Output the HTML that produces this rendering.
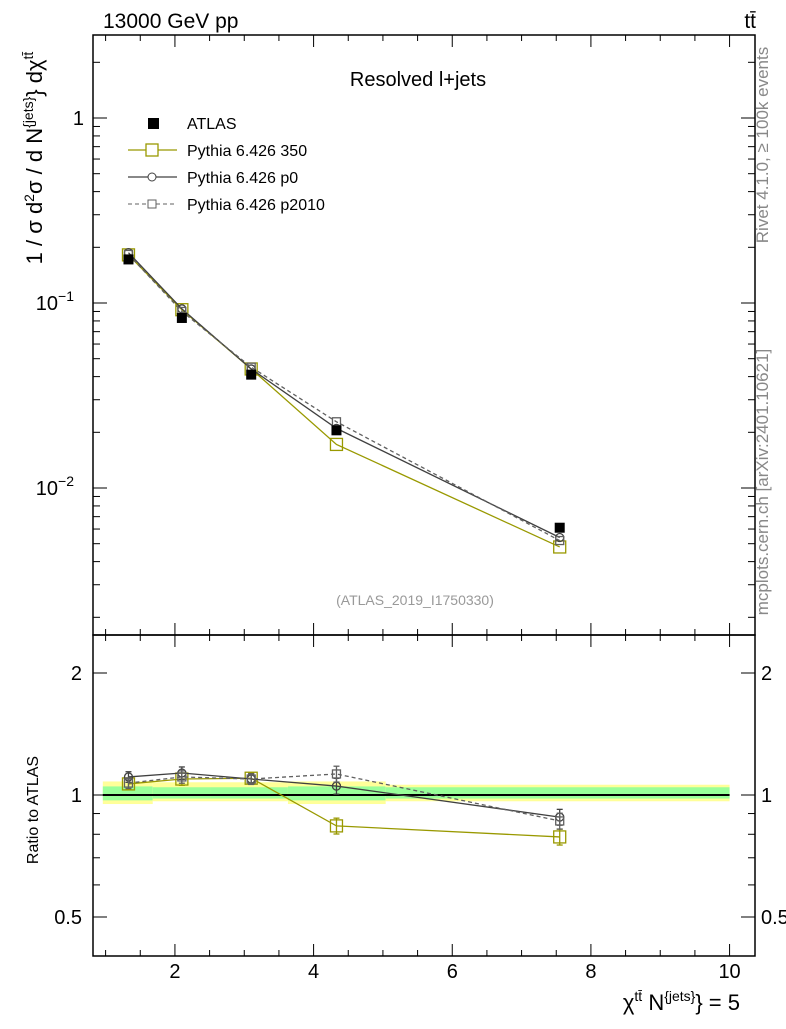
<!DOCTYPE html>
<html><head><meta charset="utf-8"><style>
body{margin:0;background:#fff}
svg text{font-family:"Liberation Sans",sans-serif}
</style></head><body>
<svg id="c" width="786" height="1024" xmlns="http://www.w3.org/2000/svg"></svg>
<script>
const xs=[1.33,2.1,3.1,4.33,7.55];
const atlas=[0.172,0.083,0.041,0.0205,0.0061];
const py350=[0.182,0.092,0.044,0.0172,0.0048];
const pyp0=[0.187,0.093,0.044,0.021,0.0054];
const pyp2010=[0.183,0.090,0.045,0.0228,0.0052];
const r350=[1.065,1.095,1.10,0.839,0.788];
const rp0=[1.108,1.133,1.095,1.052,0.882];
const rp2010=[1.07,1.108,1.095,1.127,0.863];
const rErr=[0.03,0.035,0.03,0.045,0.045];
const binEdges=[0.96,1.68,2.52,3.63,5.04,10];
const yelLo=[0.95,0.965,0.965,0.95,0.965];
const yelHi=[1.08,1.075,1.075,1.08,1.06];
const grnLo=[0.97,0.98,0.98,0.97,0.98];
const grnHi=[1.05,1.045,1.045,1.05,1.045];
const xTicks=[2,4,6,8,10];

const S=document.getElementById('c'),NS='http://www.w3.org/2000/svg';
function el(t,a,p){const e=document.createElementNS(NS,t);for(const k in a)e.setAttribute(k,a[k]);(p||S).appendChild(e);return e;}
const X=v=>105.6+(v-1)*69.33;
const Y=v=>118-185*Math.log10(v);
const R=v=>795-122*Math.log2(v);
const L=93,Rt=755,B=956;
for(let i=0;i<5;i++){
 let b=el('rect',{x:X(binEdges[i]),y:R(yelHi[i]),width:X(binEdges[i+1])-X(binEdges[i]),height:R(yelLo[i])-R(yelHi[i]),fill:'#ffff99'});
 
 let g=el('rect',{x:X(binEdges[i]),y:R(grnHi[i]),width:X(binEdges[i+1])-X(binEdges[i]),height:R(grnLo[i])-R(grnHi[i]),fill:'#99ff99'});
 
}
el('line',{x1:X(binEdges[0]),x2:X(10),y1:R(1),y2:R(1),stroke:'#000','stroke-width':2});
el('rect',{x:L,y:35,width:Rt-L,height:600,fill:'none',stroke:'#000','stroke-width':1.5});
el('rect',{x:L,y:635,width:Rt-L,height:B-635,fill:'none',stroke:'#000','stroke-width':1.5});
for(let v=1;v<=10.3;v+=0.5){const maj=xTicks.includes(v);const h=maj?12:6;
 for(const [top,bot] of [[35,635],[635,B]]){el('line',{x1:X(v),x2:X(v),y1:bot,y2:bot-h,stroke:'#000'});el('line',{x1:X(v),x2:X(v),y1:top,y2:top+h,stroke:'#000'});}}
xTicks.forEach(v=>{const t=el('text',{x:X(v),y:978,'font-size':20,'text-anchor':'middle'});t.textContent=v;
 });
for(let d=-3;d<=0;d++)for(let m=1;m<=9;m++){const v=m*Math.pow(10,d);const y=Y(v);if(y<35||y>635)continue;const h=m==1?14:7;
 el('line',{x1:L,x2:L+h,y1:y,y2:y,stroke:'#000'});el('line',{x1:Rt,x2:Rt-h,y1:y,y2:y,stroke:'#000'});}
[[1,'1',''],[0.1,'10','−1'],[0.01,'10','−2']].forEach(([v,b,e])=>{const t=el('text',{x:e?74:84,y:Y(v)+7,'font-size':20,'text-anchor':'end'});
 t.textContent=b;if(e){const s=el('tspan',{dy:-9,'font-size':14},t);s.textContent=e;}
 });
[0.4,0.5,0.6,0.7,0.8,0.9,1,2].forEach(v=>{const y=R(v);if(y>B)return;const h=(v==1||v==2||v==0.5)?14:7;
 el('line',{x1:L,x2:L+h,y1:y,y2:y,stroke:'#000'});el('line',{x1:Rt,x2:Rt-h,y1:y,y2:y,stroke:'#000'});});
[[2,'2'],[1,'1'],[0.5,'0.5']].forEach(([v,s])=>{for(const [x,a] of [[82,'end'],[761,'start']]){const t=el('text',{x:x,y:R(v)+7,'font-size':20,'text-anchor':a});t.textContent=s;
 }});
function series(xv,yv,f,col,dash,mk,sz,name,err){
 const pts=xv.map((x,i)=>X(x)+','+f(yv[i])).join(' ');
 const pl=el('polyline',{points:pts,fill:'none',stroke:col,'stroke-width':1.3,'stroke-dasharray':dash||'none'});
 
 xv.forEach((x,i)=>{const cx=X(x),cy=f(yv[i]);
  if(err){const y1=f(yv[i]*(1+err[i])),y2=f(yv[i]*(1-err[i]));
   el('line',{x1:cx,x2:cx,y1:y1,y2:y2,stroke:col,'stroke-width':1.3});
   el('line',{x1:cx-3,x2:cx+3,y1:y1,y2:y1,stroke:col,'stroke-width':1.3});
   el('line',{x1:cx-3,x2:cx+3,y1:y2,y2:y2,stroke:col,'stroke-width':1.3});}
  let m;
  if(mk=='c')m=el('circle',{cx:cx,cy:cy,r:sz,fill:'none',stroke:col,'stroke-width':1.3});
  else m=el('rect',{x:cx-sz,y:cy-sz,width:2*sz,height:2*sz,fill:'none',stroke:col,'stroke-width':1.3});
  });
}
series(xs,py350,Y,'#999900','','s',6,'pythia-350');
series(xs,pyp0,Y,'#404040','','c',4,'pythia-p0');
series(xs,pyp2010,Y,'#606060','4,3','s',4,'pythia-p2010');
xs.forEach((x,i)=>{const m=el('rect',{x:X(x)-5,y:Y(atlas[i])-5,width:10,height:10,fill:'#000'});
 });
series(xs,r350,R,'#999900','','s',6,'ratio-350',rErr);
series(xs,rp0,R,'#404040','','c',4,'ratio-p0',rErr);
series(xs,rp2010,R,'#606060','4,3','s',4,'ratio-p2010',rErr);
</script>
<svg width="786" height="1024" style="position:absolute;left:0;top:0" xmlns="http://www.w3.org/2000/svg">
<text x="103" y="28" font-size="21">13000 GeV pp</text>
<text x="756" y="28" font-size="21" text-anchor="end">tt̄</text>
<text x="418" y="86" font-size="20" text-anchor="middle">Resolved l+jets</text>
<text x="415" y="605" font-size="14" fill="#999" text-anchor="middle">(ATLAS_2019_I1750330)</text>
<g font-size="16">
<rect x="148" y="118" width="11" height="11" fill="#000"/><text x="187" y="129">ATLAS</text>
<line x1="128" x2="177" y1="150" y2="150" stroke="#999900" stroke-width="1.3"/><rect x="146" y="144" width="12" height="12" fill="#fff" stroke="#999900" stroke-width="1.3"/><text x="187" y="156">Pythia 6.426 350</text>
<line x1="128" x2="177" y1="177" y2="177" stroke="#404040" stroke-width="1.3"/><circle cx="152" cy="177" r="4" fill="#fff" stroke="#404040"/><text x="187" y="183">Pythia 6.426 p0</text>
<line x1="128" x2="177" y1="204" y2="204" stroke="#606060" stroke-dasharray="4,3"/><rect x="148" y="200" width="8" height="8" fill="#fff" stroke="#606060"/><text x="187" y="210">Pythia 6.426 p2010</text>
</g>
<text transform="translate(42,158) rotate(-90)" font-size="22" text-anchor="middle">1 / σ d<tspan dy="-8" font-size="14">2</tspan><tspan dy="8">σ / d N</tspan><tspan dy="-9" font-size="14">{jets}</tspan><tspan dy="9">} dχ</tspan><tspan dy="-9" font-size="14">tt̄</tspan></text>
<text transform="translate(38,810) rotate(-90)" font-size="16" text-anchor="middle">Ratio to ATLAS</text>
<text x="740" y="1010" font-size="22" text-anchor="end">χ<tspan dy="-9" font-size="14">tt̄</tspan><tspan dy="9"> N</tspan><tspan dy="-9" font-size="14">{jets}</tspan><tspan dy="9">} = 5</tspan></text>
<text transform="translate(768,145) rotate(-90)" font-size="17" fill="#888" text-anchor="middle">Rivet 4.1.0, ≥ 100k events</text>
<text transform="translate(768,482) rotate(-90)" font-size="17" fill="#888" text-anchor="middle">mcplots.cern.ch [arXiv:2401.10621]</text>
</svg>
</body></html>
